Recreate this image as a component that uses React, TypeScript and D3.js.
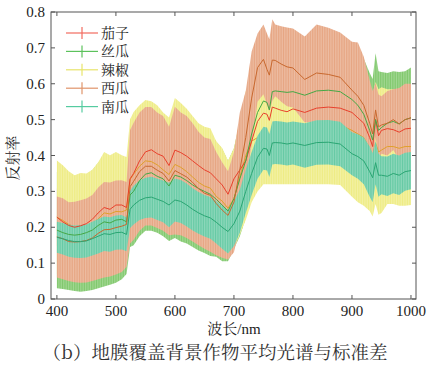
import { area, line, scaleLinear } from "d3";

const W = 429;
const H = 368;
const M = { top: 12, right: 416, bottom: 299, left: 51 };

// wavelength (nm)
const wavelength = [
  400, 410, 420, 430, 440, 450, 460, 470, 480, 490,
  500, 510, 518, 524, 530, 540, 550, 560, 570, 580,
  590, 600, 610, 620, 630, 640, 650, 660, 670, 680,
  690, 700, 710, 720, 730, 740, 750, 756, 760, 765,
  770, 780, 790, 800, 820, 840, 860, 880, 900, 910,
  920, 930, 935, 940, 945, 950, 960, 970, 980, 990,
  1000,
];

// 茄子
const eggplantMean = [
  0.228, 0.215, 0.205, 0.2, 0.204, 0.21, 0.222, 0.24, 0.255, 0.25,
  0.262, 0.262, 0.255, 0.335, 0.35, 0.385, 0.41, 0.416, 0.405, 0.398,
  0.372, 0.415, 0.408, 0.398, 0.385, 0.372, 0.36, 0.352, 0.335, 0.318,
  0.292, 0.335, 0.36, 0.385, 0.44, 0.495, 0.518, 0.515, 0.498, 0.535,
  0.532, 0.526, 0.522, 0.53, 0.52, 0.532, 0.535, 0.532, 0.52, 0.505,
  0.49, 0.45, 0.425, 0.5, 0.455, 0.47, 0.475, 0.472, 0.465, 0.474,
  0.476,
];
const eggplantSd = [
  0.08, 0.078, 0.078, 0.079, 0.08, 0.08, 0.081, 0.082, 0.082, 0.08,
  0.08, 0.079, 0.078, 0.08, 0.08, 0.082, 0.083, 0.083, 0.082, 0.081,
  0.08, 0.082, 0.082, 0.081, 0.08, 0.08, 0.079, 0.079, 0.078, 0.078,
  0.076, 0.078, 0.08, 0.082, 0.085, 0.088, 0.09, 0.09, 0.088, 0.09,
  0.09, 0.09, 0.09, 0.09, 0.088, 0.09, 0.09, 0.09, 0.09, 0.09,
  0.09, 0.088, 0.086, 0.09, 0.088, 0.086, 0.086, 0.086, 0.085, 0.086,
  0.086,
];

// 丝瓜
const loofahMean = [
  0.192, 0.185, 0.18, 0.178, 0.18, 0.185, 0.192, 0.205, 0.215, 0.212,
  0.22, 0.222, 0.215, 0.29, 0.3, 0.33, 0.348, 0.352, 0.342, 0.335,
  0.315, 0.345, 0.34, 0.33, 0.318, 0.308, 0.3, 0.292, 0.278, 0.262,
  0.245, 0.28, 0.335, 0.385, 0.46, 0.52, 0.552, 0.548, 0.527, 0.578,
  0.58, 0.578, 0.576, 0.578, 0.568, 0.58, 0.582, 0.578, 0.556, 0.54,
  0.515, 0.47, 0.443, 0.5, 0.47, 0.478, 0.49, 0.495, 0.488, 0.5,
  0.505,
];
const loofahSd = [
  0.162, 0.157, 0.155, 0.156, 0.16, 0.163, 0.167, 0.175, 0.18, 0.172,
  0.175, 0.167, 0.145, 0.145, 0.15, 0.155, 0.158, 0.162, 0.157, 0.16,
  0.153, 0.175, 0.18, 0.175, 0.173, 0.173, 0.172, 0.172, 0.16, 0.157,
  0.14, 0.14, 0.16, 0.16, 0.155, 0.15, 0.15, 0.15, 0.15, 0.15,
  0.15, 0.15, 0.15, 0.15, 0.15, 0.15, 0.15, 0.148, 0.148, 0.15,
  0.155, 0.16, 0.17, 0.185, 0.165, 0.155, 0.14, 0.14, 0.145, 0.135,
  0.14,
];

// 辣椒
const pepperMean = [
  0.228, 0.219, 0.208, 0.201, 0.203, 0.203, 0.21, 0.223, 0.24, 0.237,
  0.244, 0.243, 0.248, 0.333, 0.348, 0.37, 0.385, 0.383, 0.374, 0.36,
  0.347, 0.375, 0.367, 0.355, 0.34, 0.325, 0.315, 0.309, 0.286, 0.273,
  0.253, 0.28, 0.34, 0.4, 0.44, 0.45, 0.46, 0.455, 0.44, 0.455,
  0.455, 0.47, 0.475, 0.48, 0.485, 0.487, 0.487, 0.485, 0.47, 0.46,
  0.45, 0.42, 0.4, 0.435, 0.41, 0.415, 0.425, 0.425, 0.42, 0.425,
  0.425,
];
const pepperSd = [
  0.158, 0.154, 0.148, 0.144, 0.148, 0.147, 0.15, 0.158, 0.17, 0.164,
  0.166, 0.158, 0.148, 0.168, 0.173, 0.17, 0.17, 0.168, 0.166, 0.16,
  0.159, 0.185, 0.179, 0.175, 0.17, 0.165, 0.165, 0.167, 0.154, 0.148,
  0.133, 0.14, 0.16, 0.18, 0.17, 0.15, 0.14, 0.135, 0.12, 0.135,
  0.135, 0.15, 0.155, 0.16, 0.165, 0.167, 0.167, 0.167, 0.185, 0.19,
  0.19, 0.175, 0.17, 0.17, 0.175, 0.175, 0.16, 0.16, 0.16, 0.165,
  0.163,
];

// 西瓜
const melonMean = [
  0.173, 0.168, 0.16, 0.159, 0.16, 0.163, 0.17, 0.183, 0.193, 0.194,
  0.199, 0.203, 0.208, 0.313, 0.328, 0.355, 0.37, 0.37, 0.359, 0.35,
  0.329, 0.358, 0.349, 0.34, 0.325, 0.308, 0.295, 0.289, 0.266, 0.248,
  0.233, 0.27, 0.36, 0.45, 0.56, 0.645, 0.668, 0.64, 0.624, 0.666,
  0.665, 0.655, 0.647, 0.644, 0.612, 0.63, 0.626, 0.618, 0.582, 0.565,
  0.54, 0.49, 0.46, 0.527, 0.48, 0.485, 0.49, 0.5, 0.488, 0.5,
  0.505,
];
const melonSd = [
  0.113, 0.113, 0.11, 0.112, 0.115, 0.117, 0.12, 0.128, 0.133, 0.131,
  0.131, 0.128, 0.118, 0.158, 0.163, 0.165, 0.165, 0.165, 0.161, 0.16,
  0.151, 0.178, 0.171, 0.17, 0.165, 0.158, 0.155, 0.157, 0.144, 0.133,
  0.123, 0.14, 0.16, 0.13, 0.13, 0.095, 0.097, 0.1, 0.1, 0.114,
  0.1, 0.105, 0.11, 0.11, 0.12, 0.135, 0.13, 0.125, 0.135, 0.15,
  0.135, 0.12, 0.12, 0.075, 0.09, 0.08, 0.09, 0.085, 0.1, 0.1,
  0.095,
];

// 南瓜
const pumpkinMean = [
  0.172, 0.168, 0.163, 0.16, 0.16, 0.162, 0.168, 0.175, 0.182, 0.18,
  0.185, 0.186, 0.18, 0.25, 0.262, 0.275, 0.282, 0.284, 0.278, 0.272,
  0.262, 0.276, 0.272, 0.262, 0.25, 0.24, 0.232, 0.226, 0.214, 0.2,
  0.188, 0.21, 0.245, 0.3, 0.35, 0.395, 0.42, 0.418, 0.4, 0.435,
  0.436, 0.435, 0.432, 0.435, 0.428, 0.436, 0.437, 0.432, 0.405, 0.397,
  0.385, 0.355, 0.338, 0.38, 0.345, 0.345, 0.342, 0.35, 0.345, 0.355,
  0.358,
];
const pumpkinSd = [
  0.043, 0.044, 0.045, 0.045, 0.046, 0.046, 0.047, 0.048, 0.048, 0.048,
  0.048, 0.048, 0.047, 0.052, 0.054, 0.055, 0.056, 0.057, 0.058, 0.058,
  0.062, 0.06, 0.06, 0.06, 0.059, 0.058, 0.058, 0.058, 0.059, 0.06,
  0.061, 0.062, 0.06, 0.06, 0.06, 0.06, 0.06, 0.06, 0.06, 0.06,
  0.06, 0.06, 0.06, 0.06, 0.062, 0.062, 0.062, 0.062, 0.06, 0.062,
  0.065, 0.07, 0.068, 0.06, 0.06, 0.053, 0.055, 0.055, 0.055, 0.053,
  0.052,
];

const names = ["茄子", "丝瓜", "辣椒", "西瓜", "南瓜"];
const xTicks = [400, 500, 600, 700, 800, 900, 1000];
const yTicks = [0, 0.1, 0.2, 0.3, 0.4, 0.5, 0.6, 0.7, 0.8];

const series = [
  { name: names[0], mean: eggplantMean, sd: eggplantSd, band: "#ee9a8a", stroke: "#e8402c", key: "#f26b5e" },
  { name: names[1], mean: loofahMean, sd: loofahSd, band: "#80c86c", stroke: "#45a845", key: "#5cc25c" },
  { name: names[2], mean: pepperMean, sd: pepperSd, band: "#eeec84", stroke: "#e0a02c", key: "#e8e46a" },
  { name: names[3], mean: melonMean, sd: melonSd, band: "#e6a582", stroke: "#c8682e", key: "#e0946a" },
  { name: names[4], mean: pumpkinMean, sd: pumpkinSd, band: "#66caa4", stroke: "#2aa673", key: "#55cba0" },
];

const serif = "'Liberation Serif', 'Times New Roman', serif";
const cjk = "'Noto Serif CJK SC', 'Noto Sans CJK SC', sans-serif";

export default function App() {
  const x = scaleLinear().domain([390, 1008.5]).range([M.left, M.right]);
  const y = scaleLinear().domain([0, 0.8]).range([M.bottom, M.top]);

  const bands = series.map((s) =>
    area<number>()
      .x((_, i) => x(wavelength[i]))
      .y0((_, i) => y(s.mean[i] - s.sd[i]))
      .y1((_, i) => y(s.mean[i] + s.sd[i]))(s.mean) ?? ""
  );
  const lines = series.map((s) =>
    line<number>()
      .x((_, i) => x(wavelength[i]))
      .y((d) => y(d))(s.mean) ?? ""
  );
  const band = (i: number) => <path key={`b${i}`} d={bands[i]} fill={`url(#st${i})`} />;
  const mean = (i: number) => (
    <path key={`m${i}`} d={lines[i]} fill="none" stroke={series[i].stroke} strokeWidth={1} />
  );

  return (
    <svg
      width={W}
      height={H}
      viewBox={`0 0 ${W} ${H}`}
      style={{ position: "absolute", left: 0, top: 0, background: "#fff" }}
    >
      <defs>
        <clipPath id="plot">
          <rect x={M.left} y={M.top} width={M.right - M.left} height={M.bottom - M.top} />
        </clipPath>
        {series.map((s, i) => (
          <pattern key={i} id={`st${i}`} width={1.7} height={8} patternUnits="userSpaceOnUse">
            <rect width={1.7} height={8} fill={s.band} />
            <rect width={0.45} height={8} fill="#fff" opacity={0.5} />
          </pattern>
        ))}
      </defs>

      {/* error bands in plotting order; the pepper mean sits under the pumpkin band */}
      <g clipPath="url(#plot)">
        {[0, 1, 2, 3].map(band)}
        {mean(2)}
        {band(4)}
        {[0, 1, 3, 4].map(mean)}
      </g>

      <rect
        x={M.left}
        y={M.top}
        width={M.right - M.left}
        height={M.bottom - M.top}
        fill="none"
        stroke="#555"
        strokeWidth={1}
      />
      {xTicks.map((t) => (
        <g key={`x${t}`}>
          <line x1={x(t)} x2={x(t)} y1={M.bottom} y2={M.bottom - 4} stroke="#555" />
          <line x1={x(t)} x2={x(t)} y1={M.top} y2={M.top + 4} stroke="#555" />
          <text x={x(t)} y={M.bottom + 17} textAnchor="middle" fontFamily={serif} fontSize={15} fill="#222">
            {t}
          </text>
        </g>
      ))}
      {yTicks.map((t) => (
        <g key={`y${t}`}>
          <line x1={M.left} x2={M.left + 4} y1={y(t)} y2={y(t)} stroke="#555" />
          <line x1={M.right} x2={M.right - 4} y1={y(t)} y2={y(t)} stroke="#555" />
          <text x={M.left - 6} y={y(t)} dy="0.34em" textAnchor="end" fontFamily={serif} fontSize={15} fill="#222">
            {t === 0 ? "0" : t.toFixed(1)}
          </text>
        </g>
      ))}

      <text x={234} y={334} textAnchor="middle" fontSize={15} fill="#222" fontFamily={serif}>
        <tspan fontFamily={cjk}>波长</tspan>/nm
      </text>
      <text
        transform={`translate(18,${158}) rotate(-90)`}
        textAnchor="middle"
        fontFamily={cjk}
        fontSize={15}
        fill="#222"
      >
        反射率
      </text>

      {series.map((s, i) => {
        const ly = 33 + i * 18.4;
        return (
          <g key={`l${i}`}>
            <line x1={66} x2={98} y1={ly} y2={ly} stroke={s.key} strokeWidth={1.2} />
            <line x1={82} x2={82} y1={ly - 6} y2={ly + 6} stroke={s.key} strokeWidth={1.2} />
            <text x={101} y={ly} dy="0.36em" fontFamily={cjk} fontSize={14} fill="#222">
              {s.name}
            </text>
          </g>
        );
      })}

      <text x={215} y={359} textAnchor="middle" fontFamily={cjk} fontSize={18.5} fill="#333">
        （b）地膜覆盖背景作物平均光谱与标准差
      </text>
    </svg>
  );
}
